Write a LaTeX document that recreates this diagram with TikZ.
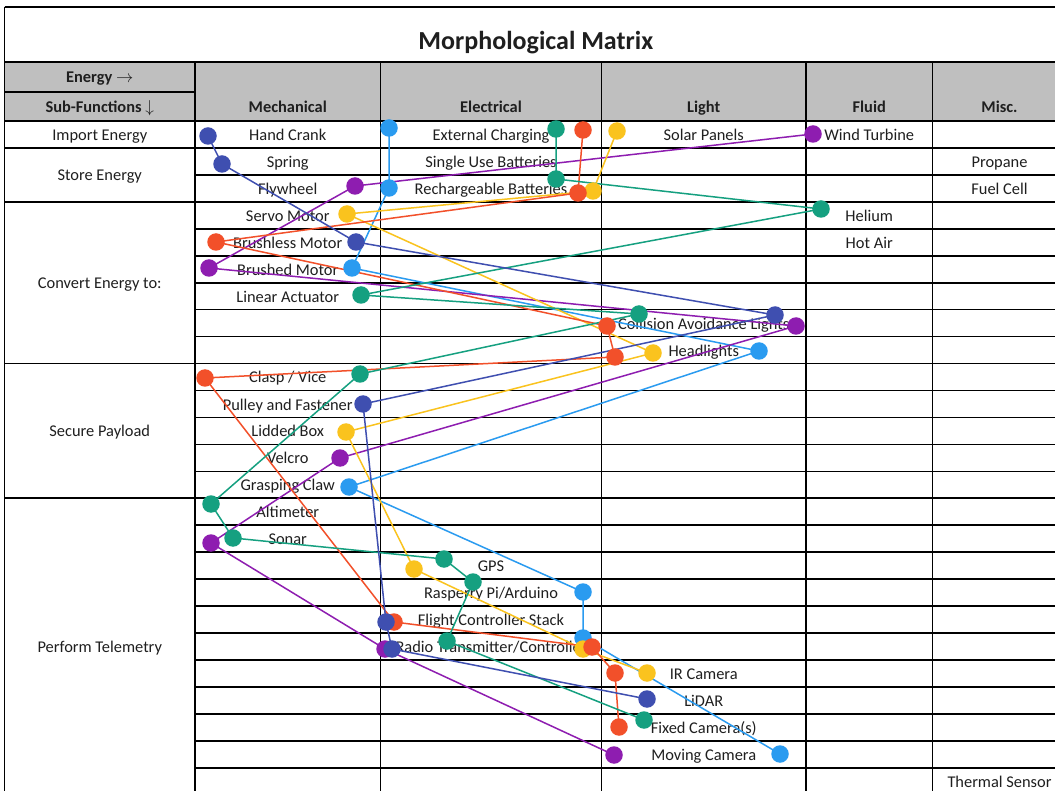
\documentclass[tikz,border=0pt]{standalone}
\usepackage{fontspec}
\setmainfont{Carlito}
\pgfdeclarelayer{table}
\pgfdeclarelayer{links}
\pgfsetlayers{table,links,main}
\definecolor{cDkBlue}{HTML}{3F4FB0}
\definecolor{cLtBlue}{HTML}{2A9BF0}
\definecolor{cGreen}{HTML}{15A080}
\definecolor{cRed}{HTML}{F2502A}
\definecolor{cYellow}{HTML}{FAC31E}
\definecolor{cPurple}{HTML}{8E1DB0}
\definecolor{cHead}{HTML}{BFBFBF}
\begin{document}
\begin{tikzpicture}[x=1pt,y=-1pt,
  rule/.style={line width=1.7pt,black},
  txt/.style={anchor=base,inner sep=0pt,text=black!88,font=\fontsize{16.4}{19}\selectfont},
  hdr/.style={txt,font=\fontsize{16.4}{19}\selectfont\bfseries},
  dot/.style={circle,fill=#1,minimum size=17.5pt,inner sep=0pt},
  link/.style={line width=1.5pt,draw=#1,line join=round},
]
\useasboundingbox (0,0) rectangle (1055,791);
\clip (0,0) rectangle (1055,791);

% ---------- table: header fill, rules and texts ----------
\begin{pgfonlayer}{table}
\fill[white] (0,0) rectangle (1055,791);
\fill[cHead] (4.5,62) rectangle (1070,121);
% outer frame and header rules
\draw[rule] (4.5,6.7) -- (1070,6.7);
\draw[rule] (4.5,62) -- (1070,62);
\draw[rule] (4.5,92.3) -- (195,92.3);
\draw[rule] (4.5,6.7) -- (4.5,800);
\foreach \x in {195,380.5,601.5,806,932.5}
  \draw[rule] (\x,62) -- (\x,800);
% option rows
\foreach \k in {0,...,24}
  \draw[rule] (195,{121+26.95*\k}) -- (1070,{121+26.95*\k});
% sub-function group boundaries
\foreach \k in {0,1,3,9,14}
  \draw[rule] (4.5,{121+26.95*\k}) -- (195,{121+26.95*\k});

% title and headings
\node[anchor=base,inner sep=0pt,text=black!88,font=\fontsize{26}{30}\selectfont\bfseries] (title) at (535.8,50) {Morphological Matrix};
\node[hdr] (energy) at (99.75,83) {Energy $\rightarrow$};
\node[hdr] (subfn) at (99.75,113) {Sub-Functions $\downarrow$};
\node[hdr] (hmech) at (287.75,113) {Mechanical};
\node[hdr] (helec) at (491,113) {Electrical};
\node[hdr] (hlight) at (703.75,113) {Light};
\node[hdr] (hfluid) at (869.25,113) {Fluid};
\node[hdr] (hmisc) at (999.5,113) {Misc.};

% sub-functions
\node[txt] (fimport) at (99.75,140.5) {Import Energy};
\node[txt] (fstore) at (99.75,180.9) {Store Energy};
\node[txt] (fconvert) at (99.75,288.7) {Convert Energy to:};
\node[txt] (fsecure) at (99.75,436.9) {Secure Payload};
\node[txt] (ftelem) at (99.75,652.5) {Perform Telemetry};

% mechanical options
\node[txt] (handcrank) at (287.75,140.5) {Hand Crank};
\node[txt] (spring) at (287.75,167.4) {Spring};
\node[txt] (flywheel) at (287.75,194.4) {Flywheel};
\node[txt] (servo) at (287.75,221.3) {Servo Motor};
\node[txt] (brushless) at (287.75,248.3) {Brushless Motor};
\node[txt] (brushed) at (287.75,275.2) {Brushed Motor};
\node[txt] (linact) at (287.75,302.2) {Linear Actuator};
\node[txt] (clasp) at (287.75,383.0) {Clasp / Vice};
\node[txt] (pulley) at (287.75,410.0) {Pulley and Fastener};
\node[txt] (lidded) at (287.75,436.9) {Lidded Box};
\node[txt] (velcro) at (287.75,463.9) {Velcro};
\node[txt] (claw) at (287.75,490.8) {Grasping Claw};
\node[txt] (altim) at (287.75,517.8) {Altimeter};
\node[txt] (sonar) at (287.75,544.7) {Sonar};

% electrical options
\node[txt] (extcharge) at (491,140.5) {External Charging};
\node[txt] (single) at (491,167.4) {Single Use Batteries};
\node[txt] (recharge) at (491,194.4) {Rechargeable Batteries};
\node[txt] (gps) at (491,571.7) {GPS};
\node[txt] (rpi) at (491,598.6) {Rasperry Pi/Arduino};
\node[txt] (fcs) at (491,625.6) {Flight Controller Stack};
\node[txt] (radio) at (491,652.5) {Radio Transmitter/Controller};

% light options
\node[txt] (solar) at (703.75,140.5) {Solar Panels};
\node[txt] (collision) at (703.75,329.1) {Collision Avoidance Lights};
\node[txt] (headlights) at (703.75,356.1) {Headlights};
\node[txt] (ircam) at (703.75,679.5) {IR Camera};
\node[txt] (lidar) at (703.75,706.4) {LiDAR};
\node[txt] (fixedcam) at (703.75,733.4) {Fixed Camera(s)};
\node[txt] (movingcam) at (703.75,760.3) {Moving Camera};

% fluid options
\node[txt] (wind) at (869.25,140.5) {Wind Turbine};
\node[txt] (helium) at (869.25,221.3) {Helium};
\node[txt] (hotair) at (869.25,248.3) {Hot Air};

% misc options
\node[txt] (propane) at (999.5,167.4) {Propane};
\node[txt] (fuelcell) at (999.5,194.4) {Fuel Cell};
\node[txt] (thermal) at (999.5,787.3) {Thermal Sensor};
\end{pgfonlayer}

% ---------- concept selections: one colour per concept ----------
% light blue
\node[dot=cLtBlue] (ltb1) at (389,128) {};
\node[dot=cLtBlue] (ltb2) at (389,188) {};
\node[dot=cLtBlue] (ltb3) at (352,268) {};
\node[dot=cLtBlue] (ltb4) at (759,351) {};
\node[dot=cLtBlue] (ltb5) at (349,487) {};
\node[dot=cLtBlue] (ltb6) at (583,592) {};
\node[dot=cLtBlue] (ltb7) at (583,638) {};
\node[dot=cLtBlue] (ltb8) at (780,754) {};
% purple
\node[dot=cPurple] (pur1) at (813,134) {};
\node[dot=cPurple] (pur2) at (355,186) {};
\node[dot=cPurple] (pur3) at (209,268) {};
\node[dot=cPurple] (pur4) at (796,326) {};
\node[dot=cPurple] (pur5) at (340,458) {};
\node[dot=cPurple] (pur6) at (211,543) {};
\node[dot=cPurple] (pur7) at (385,649) {};
\node[dot=cPurple] (pur8) at (614,755) {};
% yellow
\node[dot=cYellow] (yel1) at (617,131) {};
\node[dot=cYellow] (yel2) at (593,191) {};
\node[dot=cYellow] (yel3) at (347,214) {};
\node[dot=cYellow] (yel4) at (653,353) {};
\node[dot=cYellow] (yel5) at (346,432) {};
\node[dot=cYellow] (yel6) at (414,569) {};
\node[dot=cYellow] (yel7) at (583,649) {};
\node[dot=cYellow] (yel8) at (647,673) {};
% red
\node[dot=cRed] (red1) at (583,130) {};
\node[dot=cRed] (red2) at (578,193) {};
\node[dot=cRed] (red3) at (216,242) {};
\node[dot=cRed] (red4) at (607,326) {};
\node[dot=cRed] (red5) at (615,357) {};
\node[dot=cRed] (red6) at (205,378) {};
\node[dot=cRed] (red7) at (394,622) {};
\node[dot=cRed] (red8) at (592,647) {};
\node[dot=cRed] (red9) at (615,673) {};
\node[dot=cRed] (red10) at (619,727) {};
% green
\node[dot=cGreen] (grn1) at (556,129) {};
\node[dot=cGreen] (grn2) at (556,179) {};
\node[dot=cGreen] (grn3) at (821,209) {};
\node[dot=cGreen] (grn4) at (361,295) {};
\node[dot=cGreen] (grn5) at (639,314) {};
\node[dot=cGreen] (grn6) at (360,374) {};
\node[dot=cGreen] (grn7) at (211,504) {};
\node[dot=cGreen] (grn8) at (233,538) {};
\node[dot=cGreen] (grn9) at (444,559) {};
\node[dot=cGreen] (grn10) at (473,582) {};
\node[dot=cGreen] (grn11) at (447,641) {};
\node[dot=cGreen] (grn12) at (644,720) {};
% dark blue
\node[dot=cDkBlue] (dkb1) at (208,136) {};
\node[dot=cDkBlue] (dkb2) at (222,164) {};
\node[dot=cDkBlue] (dkb3) at (356,242) {};
\node[dot=cDkBlue] (dkb4) at (775,315) {};
\node[dot=cDkBlue] (dkb5) at (363,404) {};
\node[dot=cDkBlue] (dkb6) at (386,622) {};
\node[dot=cDkBlue] (dkb7) at (392,649) {};
\node[dot=cDkBlue] (dkb8) at (647,699) {};

\begin{pgfonlayer}{links}
\draw[link=cLtBlue] (ltb1.center) -- (ltb2.center) -- (ltb3.center) -- (ltb4.center)
  -- (ltb5.center) -- (ltb6.center) -- (ltb7.center) -- (ltb8.center);
\draw[link=cPurple] (pur1.center) -- (pur2.center) -- (pur3.center) -- (pur4.center)
  -- (pur5.center) -- (pur6.center) -- (pur7.center) -- (pur8.center);
\draw[link=cYellow] (yel1.center) -- (yel2.center) -- (yel3.center) -- (yel4.center)
  -- (yel5.center) -- (yel6.center) -- (yel7.center) -- (yel8.center);
\draw[link=cRed] (red1.center) -- (red2.center) -- (red3.center) -- (red4.center)
  -- (red5.center) -- (red6.center) -- (red7.center) -- (red8.center)
  -- (red9.center) -- (red10.center);
\draw[link=cGreen] (grn1.center) -- (grn2.center) -- (grn3.center) -- (grn4.center)
  -- (grn5.center) -- (grn6.center) -- (grn7.center) -- (grn8.center)
  -- (grn9.center) -- (grn10.center) -- (grn11.center) -- (grn12.center);
\draw[link=cDkBlue] (dkb1.center) -- (dkb2.center) -- (dkb3.center) -- (dkb4.center)
  -- (dkb5.center) -- (dkb6.center) -- (dkb7.center) -- (dkb8.center);
\end{pgfonlayer}
\end{tikzpicture}
\end{document}
